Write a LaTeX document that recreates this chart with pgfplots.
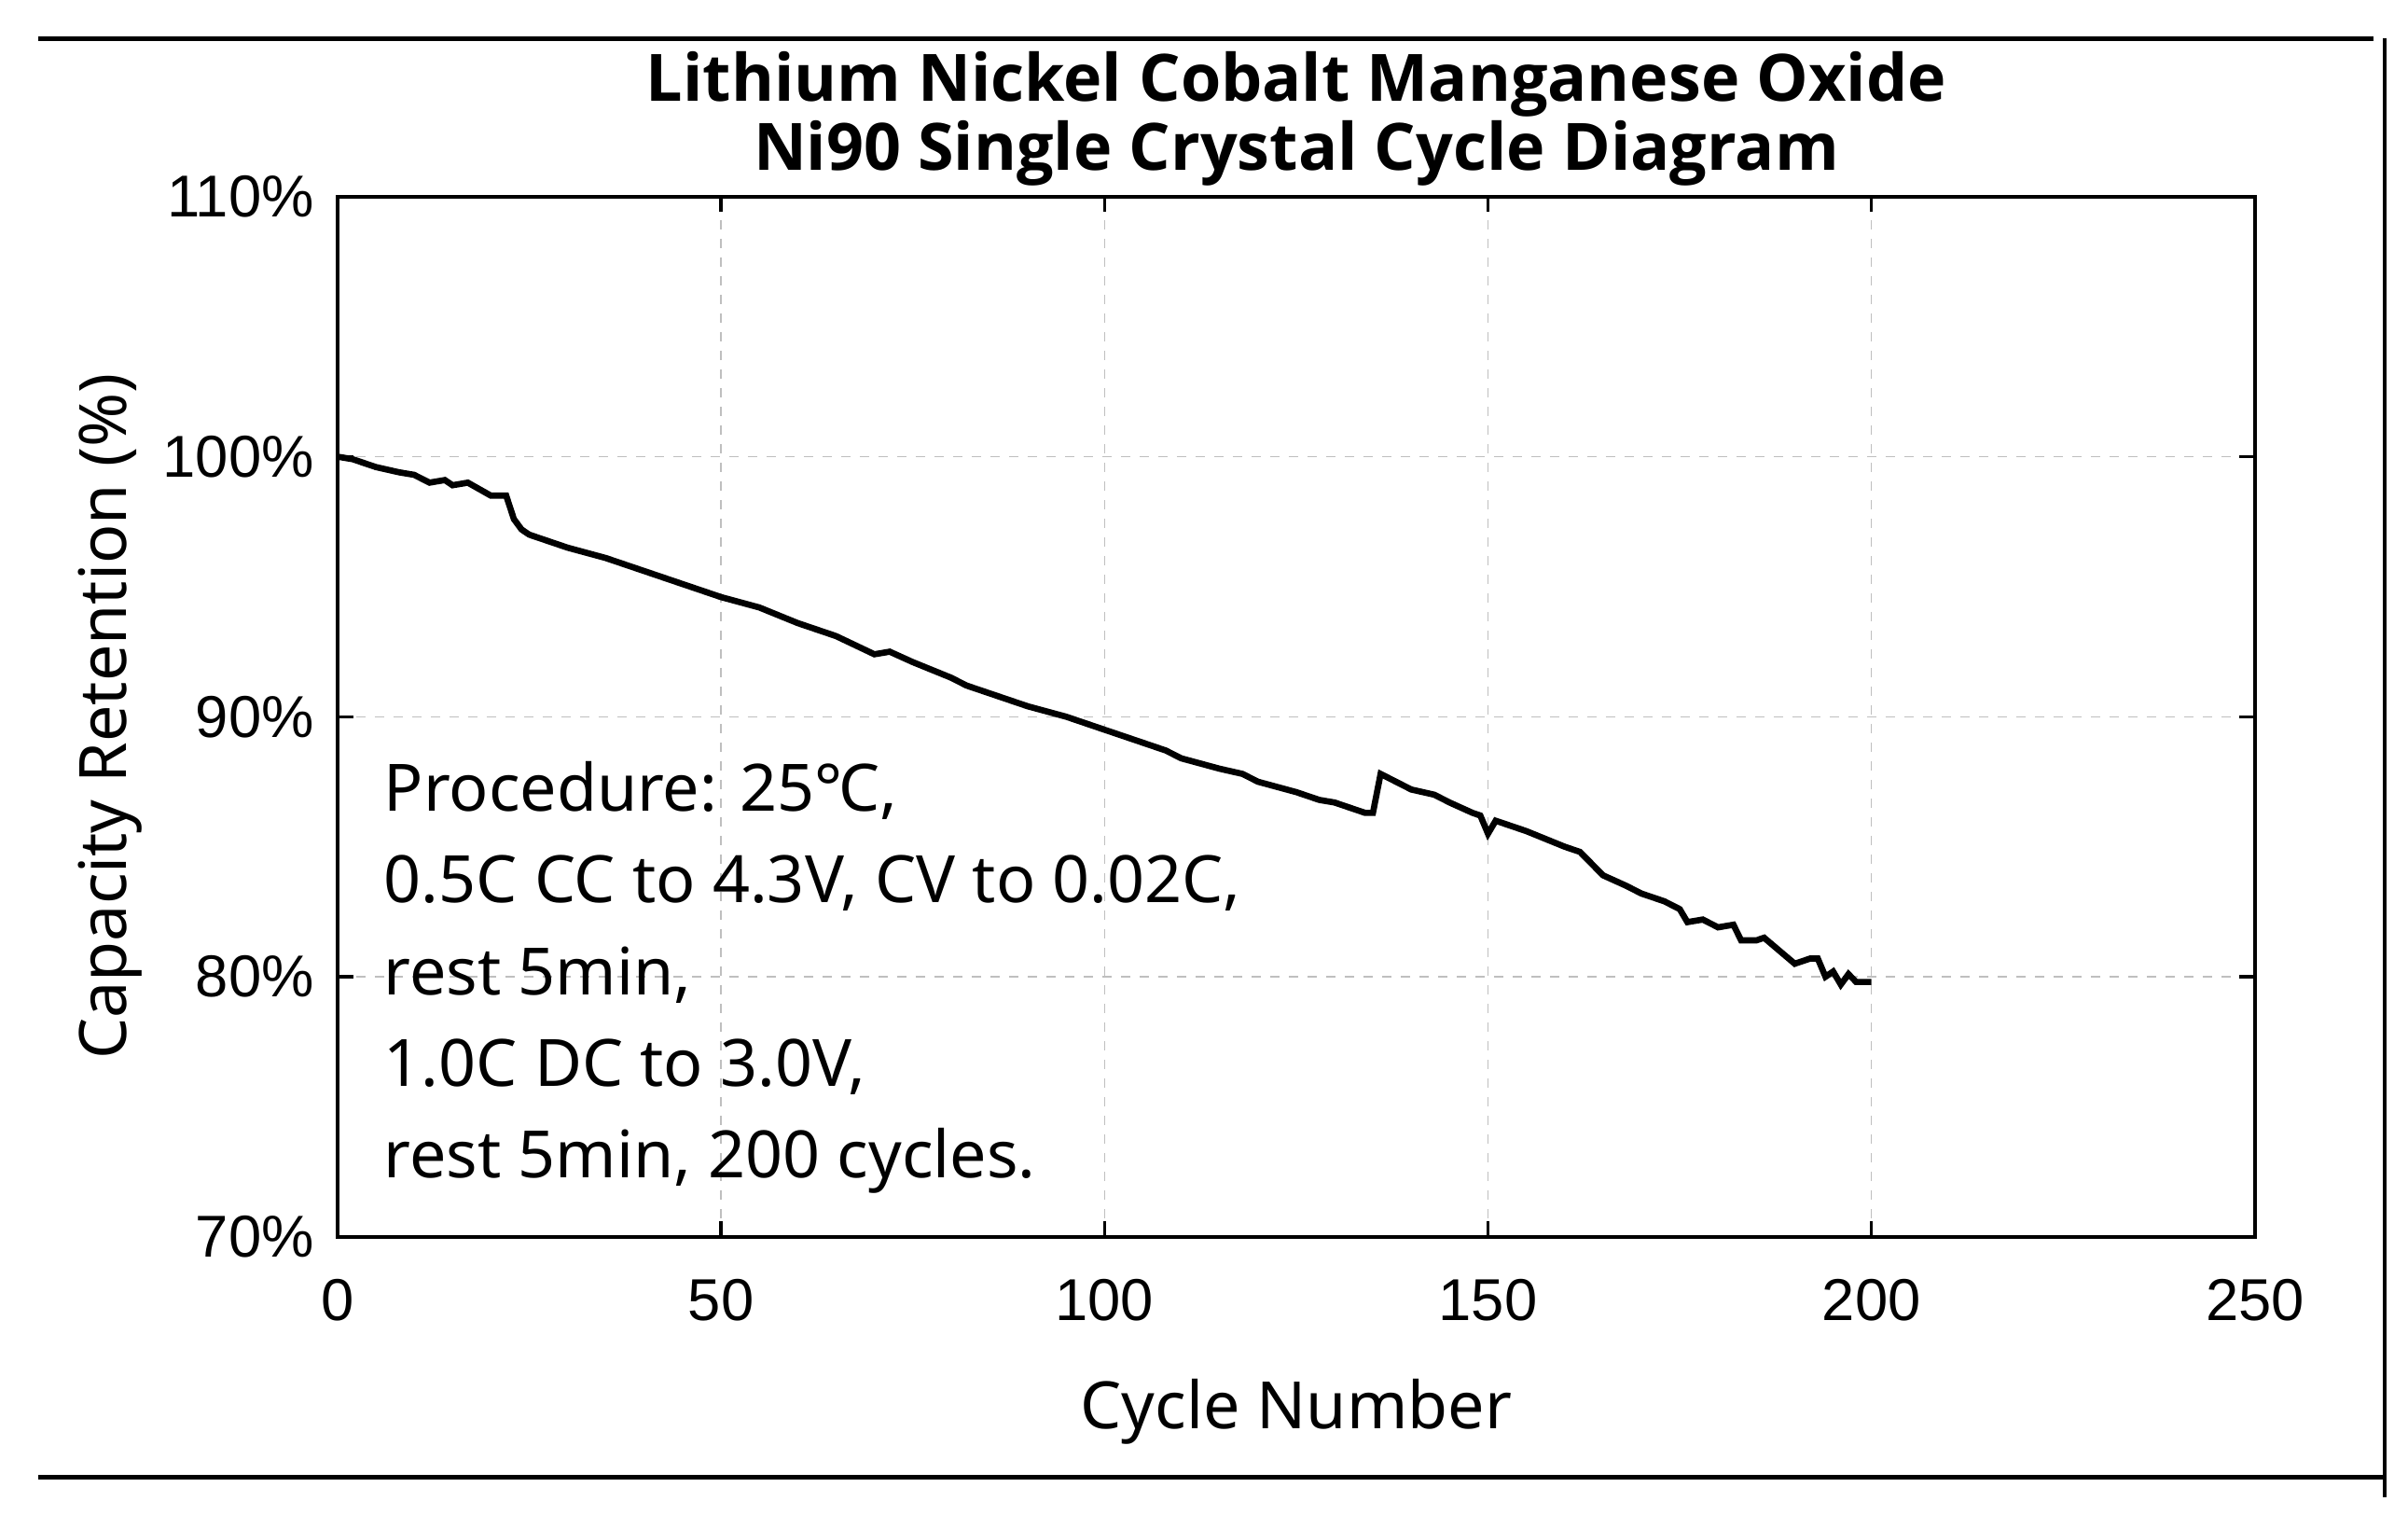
\documentclass[border=0pt]{standalone}
\usepackage{pgfplots}
\pgfplotsset{compat=1.18}
\usepackage{fontspec}
\setmainfont{Noto Sans}
\newfontfamily\titlefont{Open Sans}
\newfontfamily\tickfont{Liberation Sans}
\begin{document}
\begin{tikzpicture}
\begin{axis}[
  scale only axis, width=616.8pt, height=334.5pt,
  xmin=0, xmax=250, ymin=70, ymax=110, clip=false,
  xtick={0,50,...,250}, ytick={70,80,...,110},
  yticklabel={\pgfmathprintnumber{\tick}\%},
  /pgf/number format/assume math mode=true,
  tick label style={font=\tickfont\fontsize{19}{22}\selectfont},
  xticklabel style={yshift=-10pt},
  yticklabel style={xshift=-4pt},
  grid=major, grid style={dashed, gray!50},
  axis line style={line width=1.2pt},
  tick style={line width=1pt, black},
  major tick length=5pt, tick align=inside,
  xlabel={Cycle Number}, ylabel={Capacity Retention (\%)},
  label style={font=\fontsize{21}{24}\selectfont},
  xlabel style={yshift=-12pt},
  title={Lithium Nickel Cobalt Manganese Oxide\\ Ni90 Single Crystal Cycle Diagram},
  title style={font=\titlefont\bfseries\fontsize{21}{22}\selectfont, align=center, yshift=-6pt},
]
\addplot[black, line width=2pt] coordinates {
(0,100)(2,99.9)(5,99.6)(8,99.4)(10,99.3)(12,99.0)(14,99.1)(15,98.9)(17,99.0)(20,98.5)(22,98.5)(23,97.6)(24,97.2)(25,97.0)(28,96.7)(30,96.5)(35,96.1)(40,95.6)(45,95.1)(50,94.6)(55,94.2)(60,93.6)(65,93.1)(70,92.4)(72,92.5)(75,92.1)(80,91.5)(82,91.2)(85,90.9)(90,90.4)(95,90.0)(100,89.5)(105,89.0)(108,88.7)(110,88.4)(115,88.0)(118,87.8)(120,87.5)(125,87.1)(128,86.8)(130,86.7)(134,86.3)(135,86.3)(136,87.8)(138,87.5)(140,87.2)(143,87.0)(145,86.7)(148,86.3)(149,86.2)(150,85.5)(151,86.0)(155,85.6)(160,85.0)(162,84.8)(165,83.9)(168,83.5)(170,83.2)(173,82.9)(175,82.6)(176,82.1)(178,82.2)(180,81.9)(182,82.0)(183,81.4)(185,81.4)(186,81.5)(188,81.0)(190,80.5)(192,80.7)(193,80.7)(194,80.0)(195,80.2)(196,79.7)(197,80.1)(198,79.8)(200,79.8)
};
\node[anchor=north west, align=left, font=\fontsize{21}{29.5}\selectfont, inner sep=0pt] at (axis cs:6,88.3) {Procedure: 25℃,\\0.5C CC to 4.3V, CV to 0.02C,\\rest 5min,\\1.0C DC to 3.0V,\\rest 5min, 200 cycles.};
\coordinate (bl) at (axis description cs:-0.176,-0.267);
\coordinate (tr) at (axis description cs:1.0798,1.189);
\draw[line width=1.5pt] (axis description cs:-0.156,1.152) -- (axis description cs:1.062,1.152);
\draw[line width=1pt] (axis description cs:1.0676,1.152) -- (axis description cs:1.0676,-0.25);
\draw[line width=1.5pt] (axis description cs:-0.156,-0.231) -- (axis description cs:1.0676,-0.231);
\end{axis}
\pgfresetboundingbox
\useasboundingbox (bl) rectangle (tr);
\end{tikzpicture}
\end{document}
